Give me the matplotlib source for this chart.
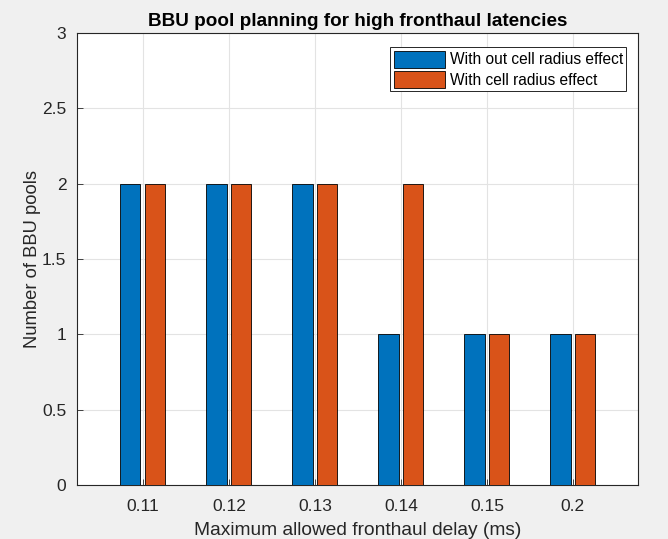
import matplotlib
matplotlib.use("Agg")
import matplotlib.pyplot as plt
import numpy as np

categories = ["0.11", "0.12", "0.13", "0.14", "0.15", "0.2"]
without_effect = [2, 2, 2, 1, 1, 1]
with_effect = [2, 2, 2, 2, 1, 1]
yticks = [0, 0.5, 1, 1.5, 2, 2.5, 3]

plt.rcParams['font.family'] = ['Liberation Sans', 'DejaVu Sans']

fig = plt.figure(figsize=(6.68, 5.39), dpi=100)
fig.patch.set_facecolor('#f0f0f0')
ax = fig.add_axes([0.116, 0.1002, 0.839, 0.8386])
ax.set_facecolor('white')

x = np.arange(len(categories))
w = 0.235
off = 0.145
ax.bar(x - off, without_effect, w, color='#0072BD', edgecolor='black', linewidth=0.6,
       label='With out cell radius effect', zorder=3)
ax.bar(x + off, with_effect, w, color='#D95319', edgecolor='black', linewidth=0.6,
       label='With cell radius effect', zorder=3)

ax.set_xlim(-0.76, 5.756)
ax.set_ylim(0, 3)
ax.set_xticks(x)
ax.set_xticklabels(categories)
ax.set_yticks(yticks)
ax.set_yticklabels(['0', '0.5', '1', '1.5', '2', '2.5', '3'])
ax.grid(True, color='#e3e3e3', linewidth=0.8, zorder=0)
ax.set_axisbelow(True)
ax.tick_params(direction='in', length=4, labelsize=12.5, colors='#262626', width=0.6)
ax.tick_params(axis='x', pad=10)
ax.tick_params(axis='y', pad=8)
for s in ax.spines.values():
    s.set_color('#262626')
    s.set_linewidth(0.8)

ax.set_xlabel('Maximum allowed fronthaul delay (ms)', fontsize=13.8, color='#262626', labelpad=5.5)
ax.set_ylabel('Number of BBU pools', fontsize=13.2, color='#262626', labelpad=0.5)
ax.set_title('BBU pool planning for high fronthaul latencies', fontsize=13.6,
             fontweight='bold', color='black', pad=5)

leg = ax.legend(loc='upper right', bbox_to_anchor=(0.9785, 0.968), fontsize=11.2,
                fancybox=False, framealpha=1, edgecolor='#262626',
                handlelength=3.3, handleheight=1.3, borderpad=0.2,
                labelspacing=0.25, handletextpad=0.3, borderaxespad=0)
leg.get_frame().set_linewidth(0.7)

fig.savefig('out.png', dpi=100, facecolor=fig.get_facecolor())
